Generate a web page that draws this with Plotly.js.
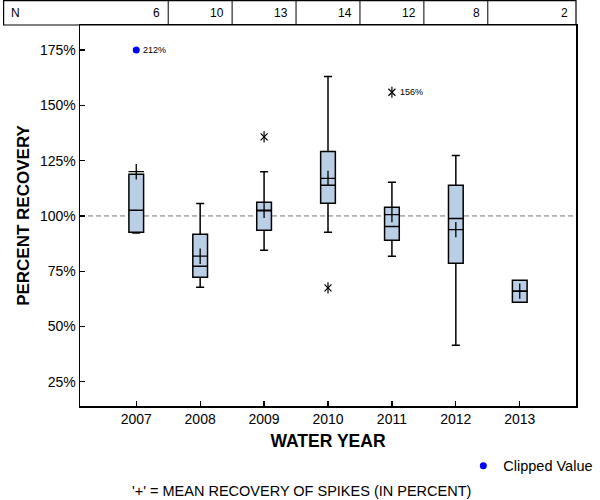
<!DOCTYPE html>
<html>
<head>
<meta charset="utf-8">
<script src="https://cdn.plot.ly/plotly-3.0.1.min.js"></script>
<style>html,body{margin:0;padding:0;background:#fff;}#chart{width:600px;height:500px;}</style>
</head>
<body>
<div id="chart"></div>
<script>
// ---- data ----
const years = ['2007', '2008', '2009', '2010', '2011', '2012', '2013'];
const nCounts = [6, 10, 13, 14, 12, 8, 2];
const q1 = [92.6, 72.3, 93.5, 105.7, 89.0, 78.6, 61.0];
const medians = [102.6, 77.3, 102.3, 113.9, 95.2, 98.8, 66.0];
const q3 = [118.9, 91.7, 106.2, 129.1, 103.9, 113.9, 70.9];
const lowerWhisker = [92.3, 67.8, 84.5, 92.6, 81.8, 41.6, 61.0];
const upperWhisker = [118.9, 105.6, 120.0, 163.0, 115.2, 127.3, 70.9];
const means = [120.0, 81.8, 102.6, 117.0, 100.6, 93.8, 66.0];
const outlierYears = ['2009', '2010', '2011'];
const outlierValues = [135.7, 67.5, 155.9];
const outlierLabels = ['', '', '156%'];
const clippedYears = ['2007'];
const clippedActual = [212];
const clipLimit = 175;
const yTicks = [25, 50, 75, 100, 125, 150, 175];

const FONT = 'Liberation Sans, Arial, sans-serif';

const traces = [
  {
    type: 'box', x: years, q1: q1, median: medians, q3: q3,
    lowerfence: lowerWhisker, upperfence: upperWhisker,
    boxpoints: false, width: 0.23, whiskerwidth: 0.55,
    fillcolor: '#b9cfe6', line: {color: '#000', width: 1.5},
    showlegend: false, hoverinfo: 'skip'
  },
  {
    type: 'scatter', mode: 'markers', x: years, y: means,
    marker: {symbol: 'cross-thin-open', size: 11, color: '#000', line: {color: '#000', width: 1.3}},
    showlegend: false, hoverinfo: 'skip'
  },
  {
    type: 'scatter', mode: 'markers', x: outlierYears, y: outlierValues,
    marker: {symbol: 'x-thin-open', size: 7, color: '#000', line: {color: '#000', width: 1.2}},
    showlegend: false, hoverinfo: 'skip'
  },
  {
    type: 'scatter', mode: 'markers', x: outlierYears, y: outlierValues,
    marker: {symbol: 'line-ns-open', size: 8, color: '#000', line: {color: '#000', width: 1.2}},
    showlegend: false, hoverinfo: 'skip'
  },
  {
    type: 'scatter', mode: 'markers', x: clippedYears, y: clippedYears.map(() => clipLimit),
    name: 'Clipped Value',
    marker: {symbol: 'circle', size: 7, color: '#0000ff'},
    showlegend: true, hoverinfo: 'skip'
  }
];

const tableLeft = -0.154, tableTop = 1.064;

const shapes = [
  {type: 'line', xref: 'paper', yref: 'y', x0: 0, x1: 1, y0: 100, y1: 100,
   line: {color: '#777', width: 1, dash: '5px,3px'}, layer: 'below'},
  {type: 'rect', xref: 'paper', yref: 'paper', x0: tableLeft, x1: 1, y0: 1, y1: tableTop,
   line: {color: '#000', width: 1.2}}
];
for (let i = 0; i < years.length - 1; i++) {
  shapes.push({type: 'line', xref: 'x', yref: 'paper', x0: i + 0.5, x1: i + 0.5, y0: 1, y1: tableTop,
    line: {color: '#000', width: 1}});
}

const annotations = [
  {xref: 'paper', yref: 'paper', x: tableLeft, y: (1 + tableTop) / 2, xanchor: 'left', yanchor: 'middle',
   xshift: 5, text: 'N', showarrow: false, font: {family: FONT, size: 12, color: '#000'}}
];
nCounts.forEach((n, i) => {
  const last = i === nCounts.length - 1;
  annotations.push({
    xref: last ? 'paper' : 'x', yref: 'paper', x: last ? 1 : i + 0.5, y: (1 + tableTop) / 2,
    xanchor: 'right', yanchor: 'middle', xshift: -6, text: String(n), showarrow: false,
    font: {family: FONT, size: 12, color: '#000'}
  });
});
clippedYears.forEach((yr, i) => {
  annotations.push({xref: 'x', yref: 'y', x: years.indexOf(yr), y: clipLimit, xanchor: 'left', yanchor: 'middle',
    xshift: 5, text: clippedActual[i] + '%', showarrow: false,
    font: {family: FONT, size: 9, color: '#000'}});
});
outlierYears.forEach((yr, i) => {
  if (outlierLabels[i]) {
    annotations.push({xref: 'x', yref: 'y', x: years.indexOf(yr), y: outlierValues[i], xanchor: 'left', yanchor: 'middle',
      xshift: 6, text: outlierLabels[i], showarrow: false,
      font: {family: FONT, size: 9, color: '#000'}});
  }
});
annotations.push({xref: 'paper', yref: 'paper', x: 0.446, y: -0.223, xanchor: 'center', yanchor: 'middle',
  text: "'+' = MEAN RECOVERY OF SPIKES (IN PERCENT)", showarrow: false,
  font: {family: FONT, size: 14.5, color: '#000'}});

const layout = {
  width: 600, height: 500,
  margin: {l: 80, r: 24, t: 25, b: 94, autoexpand: false},
  paper_bgcolor: '#fff', plot_bgcolor: '#fff',
  font: {family: FONT, size: 14, color: '#000'},
  xaxis: {
    type: 'category', range: [-0.88, 6.88],
    showline: true, linecolor: '#000', linewidth: 1.5, mirror: true,
    ticks: 'inside', ticklen: 5, tickwidth: 1.2, tickcolor: '#000',
    showgrid: false, zeroline: false,
    tickfont: {family: FONT, size: 14, color: '#000'},
    title: {text: '<b>WATER YEAR</b>', font: {family: FONT, size: 17.5, color: '#000'}, standoff: 8}
  },
  yaxis: {
    range: [14.1, 186.3],
    tickmode: 'array', tickvals: yTicks, ticktext: yTicks.map(v => v + '%'),
    showline: true, linecolor: '#000', linewidth: 1.5, mirror: true,
    ticks: 'inside', ticklen: 5, tickwidth: 1.2, tickcolor: '#000',
    showgrid: false, zeroline: false,
    tickfont: {family: FONT, size: 14, color: '#000'},
    title: {text: '<b>PERCENT RECOVERY</b>', font: {family: FONT, size: 17, color: '#000'}, standoff: 6}
  },
  legend: {
    x: 1.045, y: -0.157, xanchor: 'right', yanchor: 'middle',
    font: {family: FONT, size: 14.5, color: '#000'}, bgcolor: 'rgba(0,0,0,0)'
  },
  shapes: shapes,
  annotations: annotations,
  showlegend: true
};

Plotly.newPlot('chart', traces, layout, {displayModeBar: false, staticPlot: true});
</script>
</body>
</html>
